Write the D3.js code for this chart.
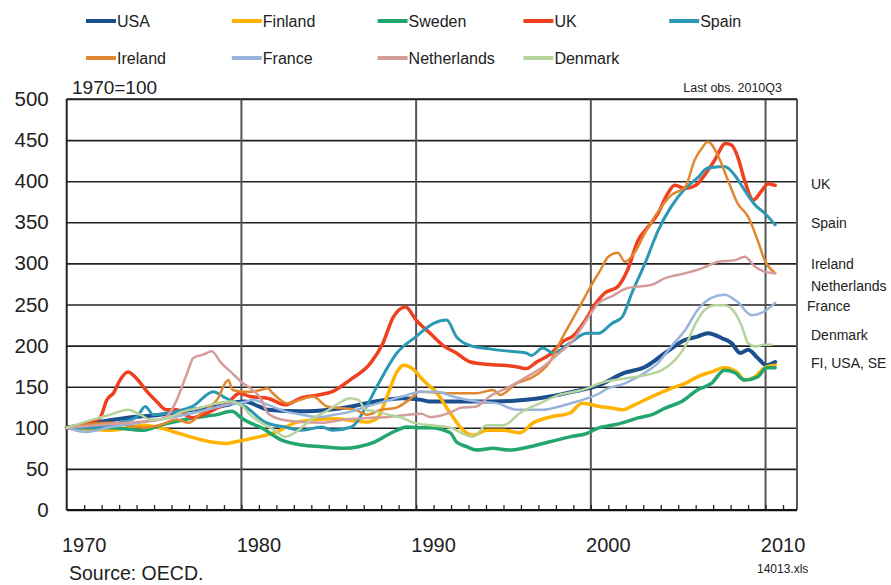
<!DOCTYPE html>
<html>
<head>
<meta charset="utf-8">
<script src="https://cdn.jsdelivr.net/npm/d3@7/dist/d3.min.js"></script>
<style>
  body { margin: 0; background: #fff; }
  svg { font-family: "Liberation Sans", Arial, sans-serif; }
</style>
</head>
<body>
<div id="chart"></div>
<script>
// house prices, 1970=100 ([year, index])
var usa = [[1970,100],[1971.5,106],[1973.4,112],[1975.35,116],[1977.2,122],[1979.2,128],[1979.7,131],[1980.2,132],[1981,126],[1981.5,122],[1983.45,120],[1985,122],[1986.3,126],[1987.65,132],[1989.2,136],[1990.3,134],[1990.8,132],[1992.5,132],[1994.4,132],[1996.3,134],[1997.65,138],[1999,144],[2000.5,152],[2001.95,167],[2003.1,174],[2004.25,191],[2005.4,207],[2006.1,211],[2006.7,215],[2007.5,209],[2008.05,203],[2008.55,191],[2009,195],[2009.55,185],[2010.05,176],[2010.55,180]];
var finland = [[1970,100],[1972.5,97],[1974.4,103],[1975.35,100],[1976.3,94],[1977.25,88],[1978.2,83],[1979.15,81],[1979.65,83],[1980.8,88],[1981.9,94],[1983.05,106],[1984.2,110],[1985.3,111],[1986.3,109],[1987.2,107],[1987.8,112],[1988.3,136],[1988.9,168],[1989.3,176],[1989.9,170],[1990.4,158],[1991.2,142],[1991.95,118],[1992.7,97],[1993.25,91],[1994.05,97],[1995,97],[1995.95,94],[1996.7,106],[1997.65,113],[1998.8,118],[1999.5,130],[2000.5,126],[2001.2,124],[2001.8,122],[2002.5,128],[2003.5,138],[2004.6,148],[2005.4,154],[2006.1,162],[2006.9,168],[2007.65,173],[2008.4,167],[2008.8,158],[2009.4,162],[2009.95,173],[2010.55,176]];
var sweden = [[1970,100],[1972.5,100],[1974.4,97],[1975.35,103],[1977.2,112],[1978.6,116],[1979.45,120],[1980,112],[1980.4,107],[1981.15,100],[1982.3,85],[1983.45,79],[1984.6,77],[1985.9,75],[1986.7,77],[1987.65,83],[1988.6,94],[1989.5,101],[1990.3,100],[1990.8,100],[1991.95,94],[1992.3,83],[1992.9,77],[1993.45,73],[1994.4,75],[1995.35,73],[1996.5,77],[1997.65,83],[1998.8,89],[1999.75,93],[2000.45,100],[2001.2,103],[2001.8,106],[2002.7,112],[2003.5,116],[2004.25,124],[2005.2,132],[2006.1,146],[2006.9,154],[2007.65,170],[2008.25,167],[2008.8,158],[2009.55,162],[2010.05,173],[2010.55,173]];
var uk = [[1970,100],[1971,104],[1971.9,112],[1972.3,134],[1972.7,143],[1973.05,158],[1973.5,168],[1974,160],[1974.6,144],[1975.15,132],[1975.7,122],[1976.3,122],[1976.8,116],[1977.2,112],[1977.8,116],[1978.6,124],[1979.2,130],[1979.9,142],[1980.5,138],[1981.5,136],[1982.5,128],[1983.5,137],[1984.4,140],[1985.3,145],[1986.2,158],[1987.4,179],[1988.1,203],[1988.7,235],[1989.4,247],[1990,231],[1990.8,215],[1991.55,200],[1992.3,191],[1993.1,180],[1994.2,177],[1995,176],[1995.8,174],[1996.3,172],[1996.9,180],[1997.7,190],[1998.4,205],[1999,212],[1999.75,233],[2000.3,252],[2000.8,264],[2001.55,272],[2002.1,292],[2002.7,328],[2003.3,345],[2003.85,361],[2004.4,385],[2004.8,395],[2005.4,391],[2006,395],[2006.5,407],[2007.1,426],[2007.7,446],[2008.05,444],[2008.4,430],[2008.8,401],[2009.3,377],[2009.8,389],[2010.15,397],[2010.55,395]];
var spain = [[1970,100],[1971.5,100],[1973,106],[1974,113],[1974.5,126],[1974.95,116],[1976.3,120],[1977.2,126],[1978.4,144],[1978.95,138],[1979.5,132],[1980.2,126],[1981.35,107],[1982.5,101],[1983.45,97],[1984.6,101],[1985.2,97],[1986.3,101],[1987.1,124],[1987.8,152],[1988.9,191],[1990,211],[1991,227],[1991.75,231],[1992.3,211],[1993.1,200],[1994.2,196],[1995.4,193],[1996.3,191],[1996.6,188],[1997.25,197],[1997.85,191],[1998.8,203],[1999.75,215],[2000.45,215],[2001.2,227],[2001.8,235],[2002.35,264],[2003.1,300],[2003.85,340],[2004.6,369],[2005.4,391],[2006.1,404],[2006.7,416],[2007.65,418],[2008.25,407],[2008.8,389],[2009.4,371],[2009.95,361],[2010.55,347]];
var ireland = [[1970,100],[1972.5,106],[1974.4,100],[1975.3,103],[1976.3,110],[1977,106],[1977.6,116],[1978.6,134],[1979.25,158],[1979.5,146],[1980.1,144],[1980.6,144],[1981.1,146],[1981.5,148],[1981.8,142],[1982.6,130],[1983.35,134],[1984.1,138],[1984.9,126],[1985.6,124],[1986.5,122],[1987.2,116],[1988,122],[1988.8,124],[1989.6,134],[1990.2,144],[1991.95,142],[1993.45,142],[1994.4,146],[1994.8,140],[1995.75,154],[1996.7,162],[1997.65,180],[1998.4,211],[1999.35,247],[2000.1,276],[2000.5,290],[2001,308],[2001.55,313],[2001.95,302],[2002.5,313],[2003.1,337],[2003.85,363],[2004.6,383],[2005.4,393],[2005.95,426],[2006.35,440],[2006.7,448],[2007.3,430],[2007.85,401],[2008.4,373],[2009,357],[2009.55,328],[2009.95,304],[2010.55,288]];
var france = [[1970,100],[1971.1,95],[1972.5,101],[1975.35,110],[1977.25,118],[1979.2,128],[1980.3,132],[1980.6,134],[1981.5,128],[1982.5,120],[1983.45,116],[1984.4,113],[1985.35,116],[1986.3,120],[1987.2,126],[1988.2,132],[1989.2,138],[1990.3,144],[1991.2,144],[1992.1,138],[1993.45,132],[1994.6,130],[1995.75,122],[1997.25,122],[1998.2,126],[1999.2,132],[2000.5,142],[2000.8,146],[2001.95,154],[2003.1,167],[2003.85,179],[2004.6,199],[2005.4,219],[2006.1,243],[2006.9,258],[2007.65,262],[2008.4,253],[2009.2,237],[2009.8,240],[2010.55,252]];
var netherlands = [[1970,100],[1973.4,106],[1975.35,110],[1975.9,118],[1976.3,134],[1976.9,167],[1977.25,185],[1977.8,189],[1978.3,193],[1978.8,180],[1979.5,166],[1980.1,154],[1980.4,150],[1981.15,134],[1981.5,118],[1982.3,110],[1983.45,107],[1984.6,106],[1985.9,110],[1987.2,112],[1988.4,113],[1989.55,116],[1990.3,117],[1990.8,113],[1992.1,120],[1992.5,124],[1993.45,126],[1994.2,138],[1995.35,150],[1996.5,164],[1997.25,174],[1998.2,191],[1999,207],[1999.75,231],[2000.45,252],[2001.2,260],[2002.1,270],[2003.5,274],[2004.25,282],[2005.4,288],[2006.35,294],[2007.3,302],[2008.25,304],[2008.8,308],[2009.4,296],[2009.95,290],[2010.55,288]];
var denmark = [[1970,100],[1971.5,110],[1972.5,116],[1973.5,122],[1974.2,116],[1974.8,110],[1975.35,110],[1975.9,113],[1976.7,120],[1977.6,124],[1978.6,130],[1979.35,132],[1980.1,126],[1980.4,118],[1981.15,106],[1981.9,97],[1982.5,89],[1983.05,94],[1984,110],[1985,122],[1985.75,132],[1986.2,136],[1986.7,134],[1987.1,122],[1987.65,120],[1988.4,116],[1989.2,112],[1989.9,106],[1990.8,103],[1991.95,100],[1993.25,89],[1994.05,103],[1995,103],[1995.95,118],[1997.1,130],[1998.2,140],[1999.5,146],[2000.8,156],[2001.95,160],[2003.1,164],[2004.05,170],[2004.8,182],[2005.4,199],[2006,227],[2006.5,243],[2007.1,249],[2007.65,249],[2008.25,240],[2008.65,223],[2009,203],[2009.4,199],[2009.95,201],[2010.35,201]];

var seriesNames = ["USA", "Finland", "Sweden", "UK", "Spain", "Ireland", "France", "Netherlands", "Denmark"];
var seriesData = [usa, finland, sweden, uk, spain, ireland, france, netherlands, denmark];
var colors = ["#1c4f8e", "#ffb300", "#22a66e", "#ef411f", "#2b99b4", "#e0872f", "#99b4dc", "#d49d9b", "#b5d39b"];
var widths = [4, 3.5, 3.5, 3.5, 3, 2.5, 2.5, 2.5, 2.5];

var yTicks = [0, 50, 100, 150, 200, 250, 300, 350, 400, 450, 500];
var decades = [1970, 1980, 1990, 2000, 2010];
var sideLabels = [["UK", 397], ["Spain", 349], ["Ireland", 299], ["Netherlands", 272], ["France", 248], ["Denmark", 213], ["FI, USA, SE", 179]];

var width = 891, height = 585;
var plotLeft = 66.7, plotRight = 797, plotTop = 99, plotBottom = 510;

var svg = d3.select("#chart").append("svg")
    .attr("width", width)
    .attr("height", height);

var x = d3.scaleLinear().domain([1970, 2011.8]).range([plotLeft, plotRight]);
var y = d3.scaleLinear().domain([0, 500]).range([plotBottom, plotTop]);

// horizontal grid + y labels
var yAxis = svg.append("g")
    .attr("transform", "translate(" + plotLeft + ",0)")
    .call(d3.axisLeft(y).tickValues(yTicks).tickSize(-(plotRight - plotLeft)).tickPadding(18));
yAxis.select(".domain").remove();
yAxis.selectAll("line").attr("stroke", "#222").attr("stroke-width", 1.6);
yAxis.selectAll("text").attr("font-size", 20.5).attr("fill", "#222")
    .attr("font-family", "'Liberation Sans', Arial, sans-serif");

// vertical grid
svg.append("g").selectAll("line")
    .data(decades.slice(1))
    .enter()
    .append("line")
    .attr("x1", function (d) { return x(d); })
    .attr("x2", function (d) { return x(d); })
    .attr("y1", plotTop)
    .attr("y2", plotBottom)
    .attr("stroke", "#555")
    .attr("stroke-width", 2);

// minor ticks, one per year, pointing up
var yearTicks = d3.range(1971, 2012);
var xTicks = svg.append("g")
    .attr("transform", "translate(0," + plotBottom + ")")
    .call(d3.axisBottom(x).tickValues(yearTicks).tickSize(-5).tickFormat(""));
xTicks.select(".domain").remove();
xTicks.selectAll("line").attr("stroke", "#222").attr("stroke-width", 1.3);

// frame
svg.append("line").attr("x1", plotLeft).attr("x2", plotLeft).attr("y1", plotTop).attr("y2", plotBottom)
    .attr("stroke", "#222").attr("stroke-width", 2);
svg.append("line").attr("x1", plotRight).attr("x2", plotRight).attr("y1", plotTop).attr("y2", plotBottom)
    .attr("stroke", "#555").attr("stroke-width", 2);
svg.append("line").attr("x1", plotLeft).attr("x2", plotRight).attr("y1", plotTop).attr("y2", plotTop)
    .attr("stroke", "#222").attr("stroke-width", 1.6);

// decade labels (centred on the first year of the decade)
svg.append("g").selectAll("text")
    .data(decades)
    .enter()
    .append("text")
    .attr("x", function (d) { return x(d + 1); })
    .attr("y", 552)
    .attr("text-anchor", "middle")
    .attr("font-size", 20)
    .attr("fill", "#222")
    .text(function (d) { return d; });

// series
var line = d3.line()
    .x(function (d) { return x(d[0]); })
    .y(function (d) { return y(d[1]); })
    .curve(d3.curveMonotoneX);

svg.append("g").selectAll("path")
    .data(seriesData)
    .enter()
    .append("path")
    .attr("d", line)
    .attr("fill", "none")
    .attr("stroke", function (d, i) { return colors[i]; })
    .attr("stroke-width", function (d, i) { return widths[i]; })
    .attr("stroke-linejoin", "round")
    .attr("stroke-linecap", "round");

svg.append("line").attr("x1", plotLeft).attr("x2", plotRight).attr("y1", plotBottom).attr("y2", plotBottom)
    .attr("stroke", "#111").attr("stroke-width", 2.2);

// legend, two rows of five
var legend = svg.append("g").selectAll("g")
    .data(seriesNames)
    .enter()
    .append("g")
    .attr("transform", function (d, i) {
        return "translate(" + (86 + (i % 5) * 145.8) + "," + (i < 5 ? 21 : 58) + ")";
    });
legend.append("line")
    .attr("x1", 0).attr("x2", 30)
    .attr("stroke", function (d, i) { return colors[i]; })
    .attr("stroke-width", 4);
legend.append("text")
    .attr("x", 31)
    .attr("y", 6)
    .attr("font-size", 16)
    .attr("fill", "#222")
    .text(function (d) { return d; });

// labels
svg.append("text").attr("x", 72).attr("y", 94).attr("font-size", 19).attr("fill", "#222").text("1970=100");
svg.append("text").attr("x", 782).attr("y", 92).attr("text-anchor", "end").attr("font-size", 12.5)
    .attr("fill", "#222").text("Last obs. 2010Q3");
svg.append("text").attr("x", 69).attr("y", 580).attr("font-size", 19.5).attr("fill", "#222").text("Source: OECD.");
svg.append("text").attr("x", 757).attr("y", 573).attr("font-size", 12).attr("fill", "#222").text("14013.xls");

svg.append("g").selectAll("text")
    .data(sideLabels)
    .enter()
    .append("text")
    .attr("x", function (d) { return d[0] === "France" ? 807 : 811; })
    .attr("y", function (d) { return y(d[1]); })
    .attr("dy", "0.35em")
    .attr("font-size", 14)
    .attr("fill", "#222")
    .text(function (d) { return d[0]; });
</script>
</body>
</html>
